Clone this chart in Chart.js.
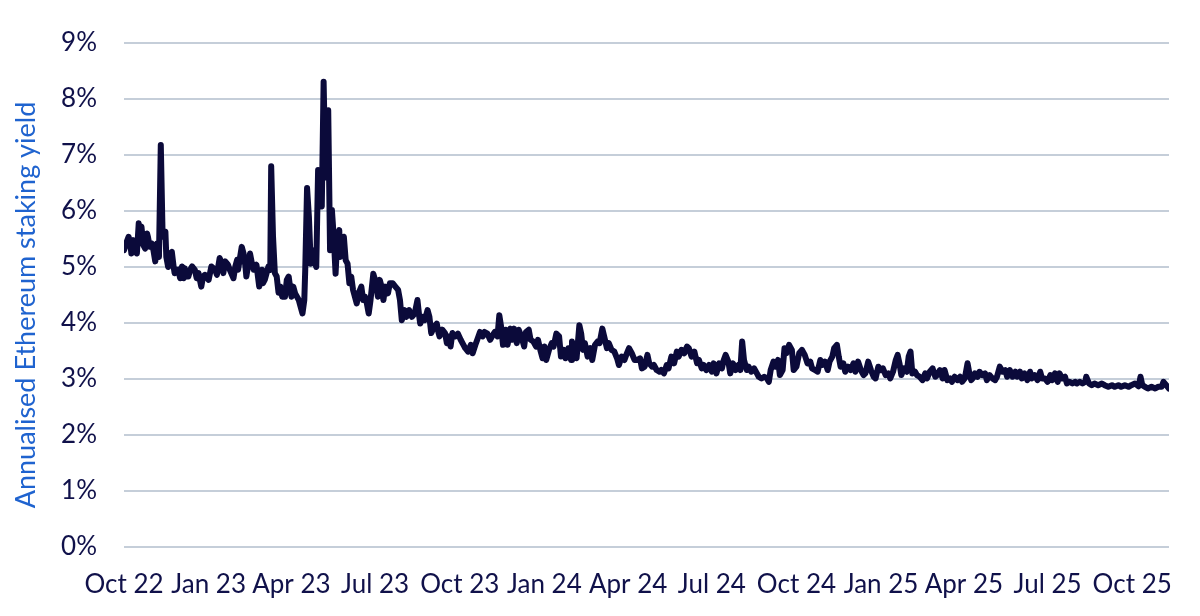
<!DOCTYPE html>
<html>
<head>
<meta charset="utf-8">
<script src="https://cdn.jsdelivr.net/npm/chart.js@4.4.1/dist/chart.umd.min.js"></script>
<style>
  html, body { margin: 0; padding: 0; background: #ffffff; }
</style>
</head>
<body>
<canvas id="graficoYield" width="1200" height="616"></canvas>
<script>
// days since 1 Oct 2022
var days = [
  0, 3, 5, 7, 8, 10, 12, 14, 16, 17, 19, 21, 23, 25, 26, 28, 30, 32, 34, 36, 38, 40, 42, 45, 46, 48, 50, 52, 54, 55,
  59, 61, 63, 65, 66, 68, 70, 72, 74, 77, 79, 81, 84, 86, 88, 92, 95, 99, 101, 104, 106, 108, 110, 113, 115, 119, 121, 123, 124, 128,
  130, 132, 133, 137, 139, 141, 144, 147, 149, 150, 151, 153, 155, 157, 159, 160, 162, 164, 166, 168, 170, 172,
  175, 177, 179, 180, 182, 184, 186, 190, 191, 194, 196, 197, 199, 201, 203, 205, 207, 209, 211, 213, 215, 217, 219, 222, 224, 226, 228, 230,
  232, 234, 235, 237, 239, 241, 243, 245, 247, 249, 251, 253, 255, 258, 260, 262, 264, 266, 268, 271, 274, 276, 278, 280, 282, 284, 287, 289, 292, 295,
  298, 300, 302, 305, 307, 310, 313, 316, 319, 321, 322, 325, 327, 330, 332, 334, 337, 340, 342, 343, 346, 349, 351, 353, 355, 357,
  360, 363, 366, 369, 371, 374, 377, 379, 382, 384, 387, 390, 392, 395, 398, 400, 403, 406, 408, 410, 412, 415, 417, 420, 422, 424, 427, 429, 432, 435,
  437, 440, 442, 445, 448, 450, 453, 455, 457, 459, 462, 465, 467, 470, 473, 475, 478, 480, 483, 486, 487, 490, 492, 495, 497, 499, 501, 504, 507, 509,
  512, 515, 517, 520, 522, 525, 527, 530, 533, 536, 538, 541, 544, 546, 549, 552, 555,
  558, 561, 563, 566, 569, 571, 574, 576, 579, 582, 584, 587, 590, 592, 595, 598, 601, 603, 606, 609, 612, 614, 617, 620, 623, 625, 628, 630, 633, 636,
  639, 641, 644, 647, 650, 652, 654, 657, 659, 662, 665, 668, 670, 672, 674, 677, 679, 682, 685, 688, 690, 693, 696, 699, 701, 703, 706, 708, 711, 713,
  716, 718, 720, 723, 726, 728, 731, 734, 737, 740,
  743, 746, 748, 751, 754, 757, 759, 762, 765, 767, 770, 772, 775, 777, 779, 782, 784, 787, 790, 793, 795, 798, 801, 804, 806, 809, 812, 815, 817, 820,
  823, 825, 828, 831, 833, 836, 839, 841, 843, 845, 848, 851, 853, 855, 857, 860, 862, 865, 868, 871, 873, 876, 879, 882, 884, 887, 890, 892, 895, 898,
  900, 903, 906, 909, 911, 914, 917, 919, 921, 924,
  925, 928, 930, 933, 936, 938, 941, 944, 947, 949, 952, 955, 958, 960, 963, 966, 969, 971, 974, 976, 979, 982, 985, 987, 990, 993, 996, 998, 1001, 1004,
  1007, 1009, 1012, 1015, 1017, 1020, 1023, 1025, 1028, 1031, 1034, 1036, 1039, 1042, 1045, 1046, 1049, 1052, 1055, 1059, 1063, 1066, 1070, 1074, 1077, 1081, 1084, 1088, 1092, 1095,
  1099, 1103, 1105, 1107, 1110, 1113, 1117, 1121, 1124, 1128, 1130, 1133, 1136
];

// annualised staking yield, %
var yieldPct = [
  5.30, 5.45, 5.54, 5.40, 5.24, 5.48, 5.39, 5.24, 5.78, 5.66, 5.72, 5.39, 5.33, 5.60, 5.54, 5.36, 5.42, 5.30, 5.10, 5.42, 5.18, 7.18, 5.54, 5.63, 5.18, 5.00, 5.24, 5.27, 5.00, 4.89,
  4.95, 4.80, 5.01, 4.80, 4.98, 4.83, 4.83, 4.95, 5.01, 4.95, 4.80, 4.89, 4.65, 4.83, 4.86, 4.77, 5.01, 4.95, 4.86, 5.16, 5.07, 4.89, 5.10, 5.04, 4.95, 4.80, 5.01, 5.13, 4.95, 5.36,
  5.24, 5.01, 4.83, 5.24, 5.07, 4.95, 5.04, 4.65, 4.89, 4.95, 4.71, 4.77, 4.89, 5.01, 4.95, 6.80, 5.54, 4.89, 4.83, 4.54, 4.65, 4.47,
  4.47, 4.77, 4.83, 4.71, 4.47, 4.65, 4.53, 4.41, 4.35, 4.17, 4.41, 4.94, 6.41, 5.90, 5.06, 5.30, 5.12, 5.00, 6.73, 6.25, 6.08, 8.31, 6.60, 7.80, 5.30, 6.02, 5.54, 4.88,
  5.54, 5.66, 5.18, 5.42, 5.54, 5.12, 5.06, 4.71, 4.83, 4.59, 4.47, 4.35, 4.53, 4.65, 4.41, 4.47, 4.35, 4.17, 4.41, 4.88, 4.71, 4.47, 4.77, 4.65, 4.41, 4.65, 4.53, 4.71, 4.71, 4.65,
  4.59, 4.41, 4.05, 4.23, 4.11, 4.23, 4.11, 4.17, 4.41, 4.11, 3.99, 4.11, 4.05, 4.23, 4.11, 3.82, 3.93, 3.99, 3.82, 3.76, 3.88, 3.82, 3.64, 3.76, 3.58, 3.82,
  3.76, 3.81, 3.70, 3.61, 3.55, 3.49, 3.61, 3.46, 3.61, 3.70, 3.84, 3.76, 3.84, 3.81, 3.70, 3.76, 3.84, 3.76, 4.14, 3.93, 3.61, 3.88, 3.61, 3.90, 3.70, 3.90, 3.64, 3.88, 3.76, 3.58,
  3.84, 3.88, 3.70, 3.67, 3.58, 3.70, 3.49, 3.37, 3.58, 3.34, 3.52, 3.64, 3.58, 3.81, 3.76, 3.40, 3.52, 3.37, 3.55, 3.34, 3.67, 3.46, 3.37, 3.96, 3.81, 3.52, 3.64, 3.40, 3.55, 3.34,
  3.61, 3.67, 3.64, 3.90, 3.76, 3.55, 3.64, 3.52, 3.49, 3.37, 3.25, 3.40, 3.34, 3.43, 3.55, 3.46, 3.34,
  3.34, 3.37, 3.19, 3.22, 3.43, 3.28, 3.22, 3.25, 3.16, 3.13, 3.16, 3.10, 3.25, 3.19, 3.40, 3.28, 3.49, 3.40, 3.52, 3.46, 3.58, 3.55, 3.40, 3.49, 3.28, 3.34, 3.19, 3.25, 3.16, 3.25,
  3.13, 3.28, 3.10, 3.28, 3.19, 3.34, 3.43, 3.31, 3.10, 3.28, 3.16, 3.25, 3.16, 3.67, 3.34, 3.16, 3.22, 3.13, 3.19, 3.10, 3.04, 3.01, 3.04, 3.01, 2.95, 3.16, 3.31, 3.22, 3.34, 3.07,
  3.16, 3.55, 3.46, 3.61, 3.52, 3.16, 3.22, 3.46, 3.52, 3.43,
  3.28, 3.31, 3.19, 3.16, 3.13, 3.34, 3.25, 3.31, 3.16, 3.31, 3.40, 3.55, 3.61, 3.40, 3.22, 3.28, 3.13, 3.22, 3.16, 3.28, 3.13, 3.31, 3.16, 3.07, 3.10, 3.31, 3.16, 3.04, 3.01, 3.22,
  3.16, 3.19, 3.07, 3.10, 3.01, 3.13, 3.34, 3.43, 3.28, 3.07, 3.19, 3.13, 3.40, 3.49, 3.10, 3.13, 3.07, 3.04, 2.98, 3.10, 3.01, 3.13, 3.19, 3.04, 3.07, 3.16, 3.01, 3.16, 2.98, 3.01,
  2.95, 3.04, 2.98, 3.04, 2.95, 3.01, 3.28, 3.10, 2.98, 3.04,
  3.10, 3.04, 3.13, 3.07, 3.10, 2.98, 3.07, 3.01, 2.98, 3.04, 3.22, 3.13, 3.16, 3.04, 3.16, 3.04, 3.13, 3.04, 3.13, 3.01, 3.10, 2.98, 3.13, 3.01, 3.07, 2.98, 3.13, 3.01, 3.01, 2.95,
  3.07, 2.98, 3.10, 2.95, 3.10, 3.01, 3.04, 2.92, 2.95, 2.92, 2.95, 2.92, 2.95, 2.92, 2.95, 3.04, 2.92, 2.89, 2.92, 2.89, 2.92, 2.89, 2.86, 2.89, 2.86, 2.89, 2.86, 2.89, 2.86, 2.89,
  2.92, 2.87, 3.04, 2.89, 2.86, 2.83, 2.86, 2.83, 2.86, 2.86, 2.95, 2.89, 2.83
];

// quarter starts (days since 1 Oct 2022) and their labels
var tickDays = [0, 92, 182, 273, 365, 457, 548, 639, 731, 823, 913, 1004, 1096];
var tickLabels = ["Oct 22", "Jan 23", "Apr 23", "Jul 23", "Oct 23", "Jan 24", "Apr 24", "Jul 24", "Oct 24", "Jan 25", "Apr 25", "Jul 25", "Oct 25"];

var tituloY = 'Annualised Ethereum staking yield';

var navy = '#10114a';
var fonte = 'Lato, "Open Sans", sans-serif';

var pontos = days.map(function (d, i) {
    return { x: d, y: yieldPct[i] };
});

// y axis title, drawn by hand so it sits where the original has it
var tituloPlugin = {
    id: 'tituloY',
    afterDraw: function (chart) {
        var c = chart.ctx;
        c.save();
        c.translate(26, 305);
        c.rotate(-Math.PI / 2);
        c.fillStyle = '#1f63cf';
        c.font = '27px ' + fonte;
        c.textAlign = 'center';
        c.textBaseline = 'middle';
        c.fillText(tituloY, 0, 0);
        c.restore();
    }
};

var ctx = document.getElementById("graficoYield");

var myChart = new Chart(ctx, {
    type: 'line',
    data: {
        datasets: [{
            data: pontos,
            borderColor: '#0b0a3a',
            borderWidth: 6,
            pointRadius: 0,
            tension: 0,
            borderJoinStyle: 'round',
            borderCapStyle: 'round'
        }]
    },
    options: {
        responsive: false,
        animation: false,
        layout: {
            padding: { left: 0, right: 31, top: 43, bottom: 0 }
        },
        plugins: {
            legend: { display: false },
            tooltip: { enabled: false }
        },
        scales: {
            x: {
                type: 'linear',
                min: 0,
                max: 1136,
                grid: { display: false, drawTicks: false },
                border: { display: false },
                afterBuildTicks: function (scale) {
                    scale.ticks = tickDays.map(function (v) { return { value: v }; });
                },
                ticks: {
                    autoSkip: false,
                    maxRotation: 0,
                    padding: 22,
                    color: navy,
                    font: { family: fonte, size: 26 },
                    callback: function (v) {
                        var i = tickDays.indexOf(v);
                        return i >= 0 ? tickLabels[i] : '';
                    }
                },
                afterFit: function (scale) { scale.height = 69; }
            },
            y: {
                min: 0,
                max: 9,
                ticks: {
                    stepSize: 1,
                    padding: 27,
                    color: navy,
                    font: { family: fonte, size: 26 },
                    callback: function (v) { return v + '%'; }
                },
                grid: { color: '#c5ced9', lineWidth: 2, drawTicks: false },
                border: { display: false },
                afterFit: function (scale) { scale.width = 124; }
            }
        }
    },
    plugins: [tituloPlugin]
});
</script>
</body>
</html>
